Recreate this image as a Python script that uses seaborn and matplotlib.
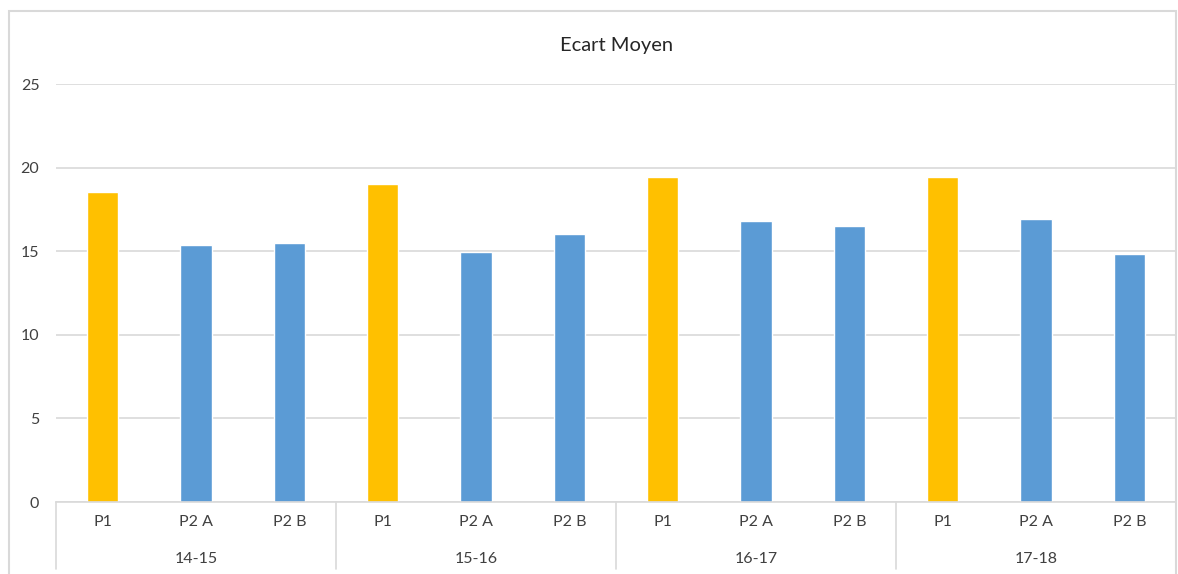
import numpy as np
import pandas as pd
from matplotlib import pyplot as plt
from matplotlib.patches import Rectangle
from matplotlib.lines import Line2D
import seaborn as sns

# data
seasons = ['14-15', '15-16', '16-17', '17-18']
periods = ['P1', 'P2 A', 'P2 B']
p1 = [18.55, 19.0, 19.45, 19.45]
p2a = [15.4, 14.95, 16.8, 16.9]
p2b = [15.5, 16.05, 16.5, 14.85]
colors = {'P1': '#FFC000', 'P2 A': '#5B9BD5', 'P2 B': '#5B9BD5'}

W, H = 1178, 574
grid_col = '#d9d9d9'
text_col = '#404040'


def build_frame():
    rows = []
    for i, s in enumerate(seasons):
        for per, vals in zip(periods, [p1, p2a, p2b]):
            rows.append({'cat': f'{s} {per}', 'season': s, 'period': per, 'value': vals[i]})
    return pd.DataFrame(rows)


def main():
    df = build_frame()
    sns.set_style('white')
    plt.rcParams['font.family'] = ['Lato', 'DejaVu Sans']

    fig = plt.figure(figsize=(W / 100, H / 100), dpi=100)
    ax = fig.add_axes([56 / W, (H - 502) / H, 1120 / W, 418 / H])

    sns.barplot(data=df, x='cat', y='value', hue='period', palette=colors,
                dodge=False, width=0.335, legend=False, ax=ax, saturation=1)

    ax.set_ylim(0, 25)
    ax.set_xlim(-0.5, len(df) - 0.5)
    ax.set_yticks([0, 5, 10, 15, 20, 25])
    ax.yaxis.grid(True, color=grid_col, linewidth=1.2)
    ax.set_axisbelow(True)
    for side in ['top', 'right', 'left']:
        ax.spines[side].set_visible(False)
    ax.spines['bottom'].set_color(grid_col)
    ax.spines['bottom'].set_linewidth(1.2)
    ax.set_xlabel('')
    ax.set_ylabel('')
    ax.tick_params(axis='y', length=0, pad=12, labelsize=11.5, labelcolor=text_col)
    ax.set_yticklabels([str(v) for v in [0, 5, 10, 15, 20, 25]], ha='right')
    ax.tick_params(axis='x', length=0, pad=9, labelsize=11.5, labelcolor=text_col)
    ax.set_xticks(range(len(df)))
    ax.set_xticklabels(df['period'])

    trans = ax.get_xaxis_transform()
    y_lo = -(569 - 502) / 418
    for k in range(len(seasons) + 1):
        xs = k * len(periods) - 0.5
        ax.add_line(Line2D([xs, xs], [0, y_lo], transform=trans, color=grid_col,
                           linewidth=1.2, clip_on=False))
    for k, s in enumerate(seasons):
        xc = k * len(periods) + 1
        ax.text(xc, -(559 - 502) / 418, s, transform=trans, ha='center', va='center',
                fontsize=11.5, color=text_col)

    fig.text(617 / W, 1 - 45 / H, 'Ecart Moyen', ha='center', va='center',
             fontsize=14.5, color='#262626')

    fig.patches.append(Rectangle((9 / W, -0.1), (1176 - 9) / W, 1.1 - 11 / H,
                                 transform=fig.transFigure, fill=False,
                                 edgecolor=grid_col, linewidth=1.5))

    plt.savefig('out.png', dpi=100)


if __name__ == '__main__':
    main()
